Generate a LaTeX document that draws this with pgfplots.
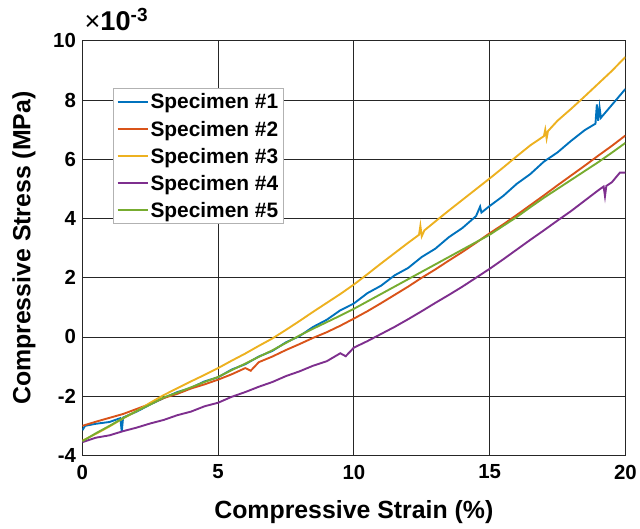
\documentclass[border=0pt]{standalone}
\usepackage{pgfplots}
\pgfplotsset{compat=1.18}
\usepackage{pgfplotstable}
\usepackage{fontspec}
\setmainfont{Liberation Sans}

\definecolor{mblue}{rgb}{0,0.447,0.741}
\definecolor{mred}{rgb}{0.85,0.325,0.098}
\definecolor{myellow}{rgb}{0.929,0.694,0.125}
\definecolor{mpurple}{rgb}{0.494,0.184,0.556}
\definecolor{mgreen}{rgb}{0.466,0.674,0.188}

% strain (%)  stress (x1e-3 MPa)
\pgfplotstableread{
x y
0 -3.15
0.1 -3.0
0.5 -2.93
1.0 -2.87
1.4 -2.74
1.45 -3.2
1.5 -2.72
2.0 -2.52
2.5 -2.28
3.0 -2.06
3.5 -1.86
4.0 -1.72
4.5 -1.5
5.0 -1.36
5.5 -1.1
6.0 -0.92
6.5 -0.66
7.0 -0.47
7.5 -0.18
8.0 0.03
8.5 0.34
9.0 0.58
9.5 0.9
10.0 1.13
10.5 1.48
11.0 1.73
11.5 2.08
12.0 2.33
12.5 2.7
13.0 2.98
13.5 3.37
14.0 3.68
14.5 4.08
14.65 4.4
14.7 4.2
15.0 4.42
15.5 4.76
16.0 5.17
16.5 5.5
17.0 5.92
17.5 6.23
18.0 6.62
18.5 6.98
18.9 7.2
18.95 7.85
19.0 7.3
19.05 7.75
19.1 7.4
19.5 7.83
20.0 8.37
}\specA

\pgfplotstableread{
x y
0 -3.0
0.5 -2.86
1.0 -2.73
1.5 -2.6
2.0 -2.43
2.5 -2.26
3.0 -2.06
3.5 -1.92
4.0 -1.74
4.5 -1.6
5.0 -1.44
5.5 -1.26
6.0 -1.05
6.2 -1.14
6.5 -0.85
7.0 -0.66
7.5 -0.44
8.0 -0.24
8.5 -0.03
9.0 0.16
9.5 0.38
10.0 0.62
10.5 0.87
11.0 1.14
11.5 1.42
12.0 1.7
12.5 2.0
13.0 2.28
13.5 2.58
14.0 2.87
14.5 3.18
15.0 3.5
15.5 3.8
16.0 4.12
16.5 4.45
17.0 4.78
17.5 5.12
18.0 5.45
18.5 5.78
19.0 6.12
19.5 6.45
20.0 6.8
}\specB

\pgfplotstableread{
x y
0 -3.5
0.5 -3.27
1.0 -3.02
1.5 -2.75
2.0 -2.5
2.5 -2.22
3.0 -1.96
3.5 -1.73
4.0 -1.5
4.5 -1.28
5.0 -1.05
5.5 -0.8
6.0 -0.56
6.5 -0.3
7.0 -0.05
7.5 0.24
8.0 0.54
8.5 0.85
9.0 1.15
9.5 1.45
10.0 1.77
10.5 2.12
11.0 2.48
11.5 2.83
12.0 3.18
12.4 3.45
12.45 3.75
12.5 3.4
12.6 3.6
13.0 3.9
13.5 4.27
14.0 4.63
14.5 4.99
15.0 5.35
15.5 5.72
16.0 6.1
16.5 6.47
17.0 6.78
17.05 7.0
17.1 6.7
17.15 6.95
17.5 7.3
18.0 7.7
18.5 8.12
19.0 8.55
19.5 8.98
20.0 9.45
}\specC

\pgfplotstableread{
x y
0 -3.55
0.5 -3.4
1.0 -3.32
1.5 -3.18
2.0 -3.06
2.5 -2.92
3.0 -2.8
3.5 -2.64
4.0 -2.52
4.5 -2.34
5.0 -2.22
5.5 -2.02
6.0 -1.86
6.5 -1.68
7.0 -1.52
7.5 -1.32
8.0 -1.16
8.5 -0.97
9.0 -0.82
9.5 -0.55
9.7 -0.65
10.0 -0.36
10.5 -0.14
11.0 0.1
11.5 0.34
12.0 0.6
12.5 0.87
13.0 1.15
13.5 1.42
14.0 1.7
14.5 2.0
15.0 2.3
15.5 2.62
16.0 2.95
16.5 3.28
17.0 3.6
17.5 3.93
18.0 4.25
18.5 4.6
19.0 4.95
19.2 5.08
19.25 4.75
19.3 5.1
19.5 5.22
19.8 5.55
20.0 5.55
}\specD

\pgfplotstableread{
x y
0 -3.52
0.5 -3.25
1.0 -3.0
1.5 -2.74
2.0 -2.5
2.5 -2.28
3.0 -2.04
3.5 -1.88
4.0 -1.7
4.5 -1.52
5.0 -1.35
5.5 -1.12
6.0 -0.9
6.5 -0.67
7.0 -0.45
7.5 -0.2
8.0 0.05
8.5 0.28
9.0 0.5
9.5 0.72
10.0 0.95
10.5 1.2
11.0 1.45
11.5 1.7
12.0 1.95
12.5 2.2
13.0 2.45
13.5 2.7
14.0 2.95
14.5 3.2
15.0 3.45
15.5 3.75
16.0 4.05
16.5 4.38
17.0 4.7
17.5 5.0
18.0 5.3
18.5 5.6
19.0 5.9
19.5 6.22
20.0 6.55
}\specE

\begin{document}
\begin{tikzpicture}
\begin{axis}[
    name=ax,
    width=546pt, height=417pt, scale only axis,
    xmin=0, xmax=20, ymin=-4, ymax=10,
    xtick={0,5,...,20}, ytick={-4,-2,...,10},
    enlargelimits=false,
    grid=major,
    major grid style={draw=black!85, line width=0.8pt},
    axis line style={draw=black!85, line width=0.9pt},
    tick style={draw=black!85, line width=0.9pt},
    tick align=inside, major tick length=5pt,
    /pgf/number format/assume math mode=true,
    ticklabel style={font=\fontsize{20.5}{24}\selectfont\bfseries},
    yticklabel style={xshift=-3pt},
    xticklabel style={yshift=-6pt},
    label style={font=\fontsize{25}{30}\selectfont\bfseries},
    xlabel={Compressive Strain (\%)},
    ylabel={Compressive Stress (MPa)},
    xlabel style={yshift=-14pt},
    ylabel style={yshift=11pt},
    legend cell align=left,
    legend style={at={(0.057,0.885)}, anchor=north west,
        draw=gray!60, line width=0.8pt, fill=white,
        font=\fontsize{21}{24}\selectfont\bfseries,
        row sep=6.5pt, inner sep=3pt},
    legend image code/.code={\draw[#1, line width=2pt] (0pt,0pt) -- (30pt,0pt);},
    every axis plot/.append style={line width=1.9pt},
]
\addplot[mblue] table {\specA};
\addplot[mred] table {\specB};
\addplot[myellow] table {\specC};
\addplot[mpurple] table {\specD};
\addplot[mgreen] table {\specE};
\legend{Specimen \#1, Specimen \#2, Specimen \#3, Specimen \#4, Specimen \#5}
\end{axis}
\node[anchor=base west, inner sep=0pt, xshift=2pt, yshift=10pt, scale=1.3]
    at (ax.north west) {\fontsize{21}{24}\selectfont ×\textbf{10}\textsuperscript{\textbf{-3}}};
\path ([xshift=-9pt]ax.outer west) ([yshift=41pt]ax.north west) ([yshift=-2pt]ax.outer south);
\end{tikzpicture}
\end{document}
